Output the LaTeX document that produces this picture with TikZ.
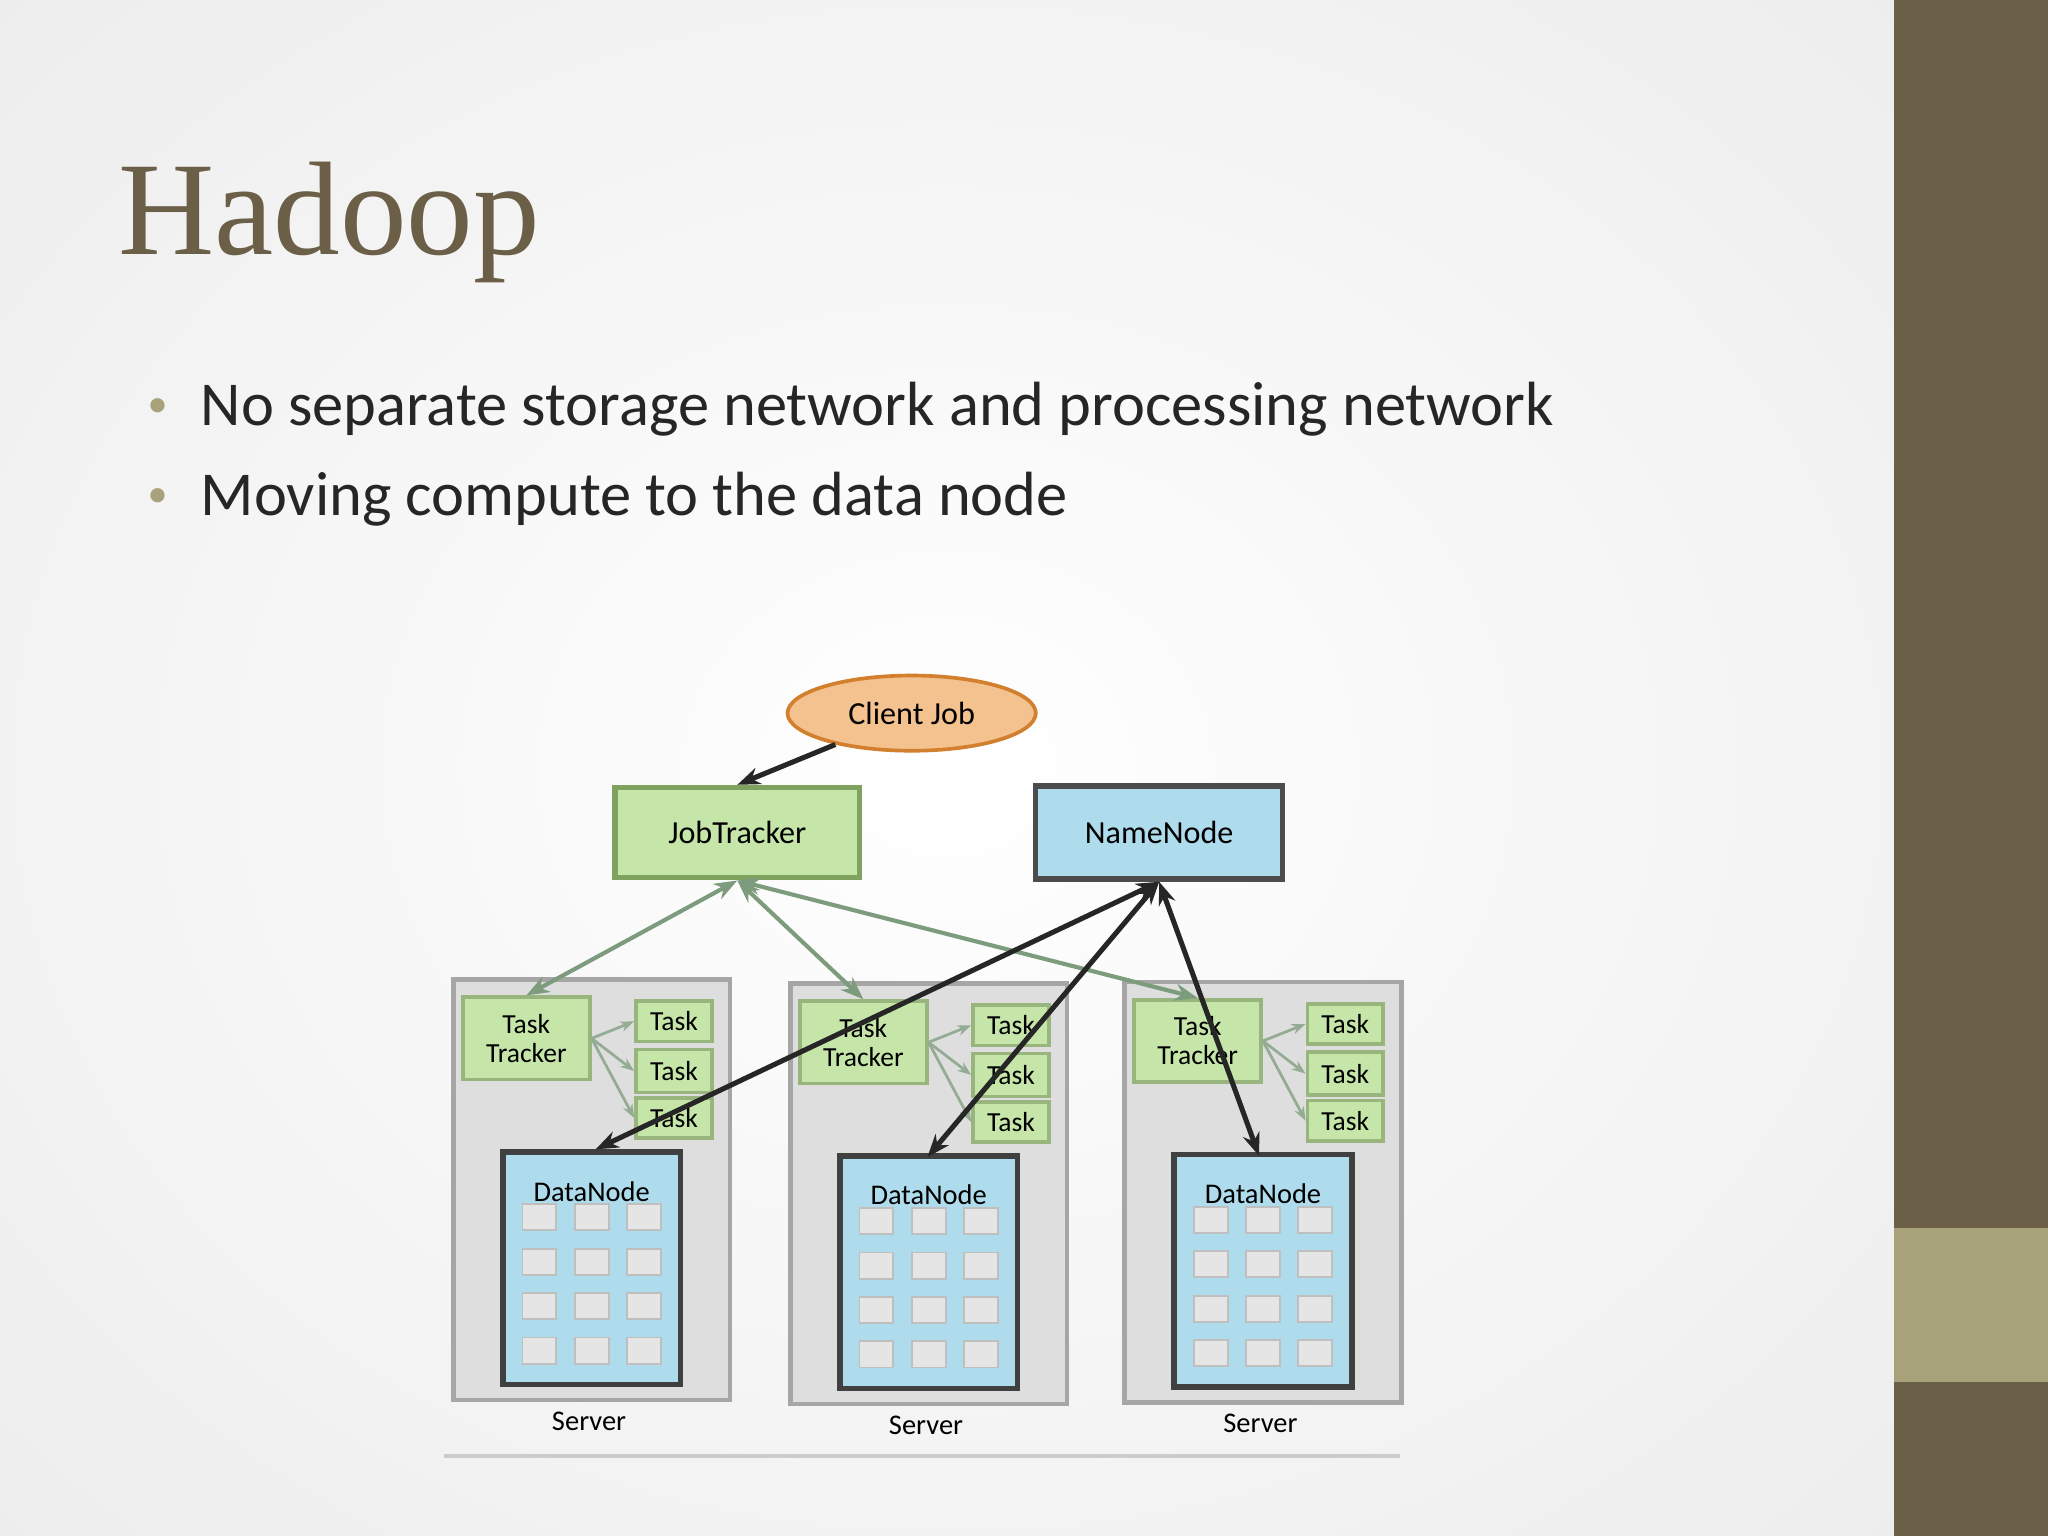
\documentclass[tikz,border=0pt]{standalone}
\usepackage{fontspec}
\setmainfont{Liberation Serif}
\newfontfamily\calib{Carlito}
\usetikzlibrary{shapes.geometric,arrows.meta}
\definecolor{olive}{HTML}{6B5F47}
\definecolor{lolive}{HTML}{A8A27A}
\definecolor{gfill}{HTML}{C6E5A9}
\definecolor{gdraw}{HTML}{7FA35E}
\definecolor{bfill}{HTML}{AEDCEC}
\definecolor{sfill}{HTML}{DEDEDE}
\definecolor{peach}{HTML}{F3C28F}
\tikzset{
 box/.style={draw, line width=1.2pt, font=\calib\fontsize{7}{8}\selectfont, align=center, inner sep=0pt},
 jt/.style={box, fill=gfill, draw=gdraw},
 tk/.style={box, fill=gfill, draw=gdraw!80, font=\calib\fontsize{6}{6.3}\selectfont, line width=0.8pt},
 srv/.style={fill=sfill, draw=gray!70, line width=1pt},
 dn/.style={fill=bfill, draw=black!75, line width=1.2pt},
 cell/.style={fill=gray!20, draw=gray!50, line width=0.4pt},
 glink/.style={draw=gray!60!green!50!black!60, line width=0.9pt, {Stealth[length=5pt]}-{Stealth[length=5pt]}},
 blink/.style={draw=black!85, line width=1.1pt, {Stealth[length=5pt]}-{Stealth[length=5pt]}},
 slink/.style={draw=gray!60!green!50!black!50, line width=0.6pt, -{Stealth[length=3pt]}},
 lbl/.style={font=\calib\fontsize{6.2}{7}\selectfont}
}
\begin{document}
\begin{tikzpicture}[x=0.01cm,y=-0.01cm]
\useasboundingbox (0,0) rectangle (1568,1176);
\fill[white] (0,0) rectangle (1450,1176);
\shade[inner color=white, outer color=gray!14, opacity=1] (-300,-250) rectangle (1750,1426);
\fill[olive] (1450,0) rectangle (1568,1176);
\fill[lolive] (1450,940) rectangle (1568,1058);
\node[anchor=base west, text=olive, font=\fontsize{29}{30}\selectfont, inner sep=0] (title) at (90,195) {Hadoop};
\node[anchor=base west, font=\calib\fontsize{13.6}{14}\selectfont, text=black!85, inner sep=0] (b1) at (153,326) {No separate storage network and processing network};
\node[anchor=base west, font=\calib\fontsize{13.6}{14}\selectfont, text=black!85, inner sep=0] (b2) at (153,395) {Moving compute to the data node};
\node[anchor=base, text=lolive, font=\fontsize{13}{14}\selectfont, inner sep=0] (d1) at (121,326) {\textbullet};
\node[anchor=base, text=lolive, font=\fontsize{13}{14}\selectfont, inner sep=0] (d2) at (121,395) {\textbullet};
% diagram
\node[ellipse, fill=peach, draw=brown!70!orange, line width=0.8pt, minimum width=1.9cm, minimum height=0.55cm, font=\calib\fontsize{7}{8}\selectfont] (cj) at (698,546) {Client Job};
\node[jt, minimum width=1.87cm, minimum height=0.69cm] (jtk) at (564.5,637.5) {JobTracker};
\node[box, fill=bfill, draw=black!70, minimum width=1.89cm, minimum height=0.71cm] (nn) at (887.5,637.5) {NameNode};
\draw[line width=1.1pt, draw=black!85, -{Stealth[length=5pt]}] (cj) -- (jtk.north);
\foreach \i/\x/\y in {1/347/750, 2/605/753, 3/861/752}{
  \pgfmathsetmacro{\xr}{\x+212}
  \pgfmathsetmacro{\yb}{\y+322}
  \draw[srv] (\x,\y) rectangle (\xr,\yb);
  \node[lbl] (s\i) at (\x+104,\yb+16) {Server};
  \node[tk, minimum width=0.97cm, minimum height=0.63cm] (tt\i) at (\x+56,\y+45) {Task\\Tracker};
  \node[tk, minimum width=0.58cm, minimum height=0.31cm] (ta\i) at (\x+169,\y+32) {Task};
  \node[tk, minimum width=0.58cm, minimum height=0.33cm] (tb\i) at (\x+169,\y+70) {Task};
  \node[tk, minimum width=0.58cm, minimum height=0.31cm] (tc\i) at (\x+169,\y+106) {Task};
  \draw[slink] (tt\i.east) -- (ta\i.west);
  \draw[slink] (tt\i.east) -- (tb\i.west);
  \draw[slink] (tt\i.east) -- (tc\i.west);
  \draw[dn] (\x+38,\y+132) rectangle (\x+174,\y+310);
  \node[lbl, anchor=north] (dn\i) at (\x+106,\y+142) {DataNode};
  \foreach \r in {0,...,3}{\foreach \c in {0,1,2}{
    \draw[cell] (\x+53+\c*40,\y+172+\r*34) rectangle ++(26,20);
  }}
}
\draw[glink] (jtk.south) -- (tt1.north);
\draw[glink] (jtk.south) -- (tt2.north);
\draw[glink] (jtk.south) -- (tt3.north);
\draw[blink] (nn.south) -- (456,880);
\draw[blink] (nn.south) -- (710,886);
\draw[blink] (nn.south) -- (964,885);
\draw[gray!40, line width=0.8pt] (340,1115) -- (1072,1115);
\end{tikzpicture}
\end{document}
